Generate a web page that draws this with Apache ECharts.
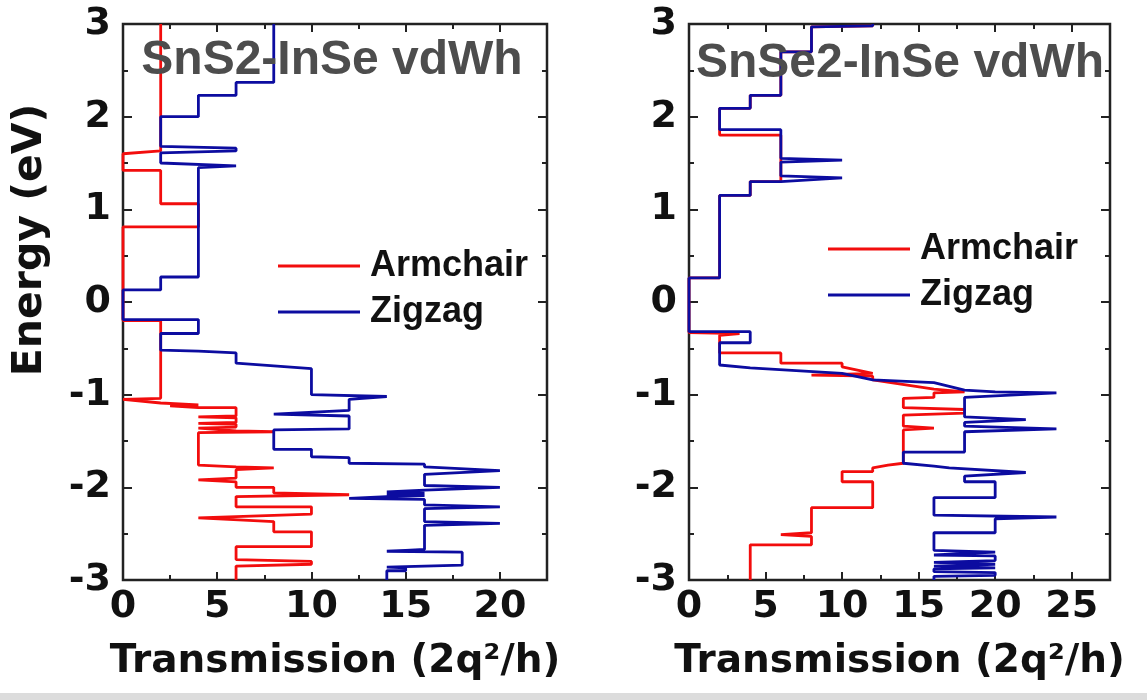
<!DOCTYPE html>
<html>
<head>
<meta charset="utf-8">
<script src="https://cdn.jsdelivr.net/npm/echarts@6/dist/echarts.min.js"></script>
<style>
  html, body { margin: 0; padding: 0; background: #fff; }
  #chart { width: 1147px; height: 700px; }
</style>
</head>
<body>
<div id="chart"></div>
<script>
// transmission curves as [T (2q^2/h), E (eV)] pairs, ordered by energy
const sns2Armchair = [
  [6,-3],[6,-2.85],[10,-2.83],[10,-2.80],[6,-2.78],[6,-2.64],[10,-2.64],[10,-2.48],[8,-2.48],[8,-2.37],
  [4,-2.33],[10,-2.29],[10,-2.21],[6,-2.21],[6,-2.10],[12,-2.08],[8,-2.06],[8,-2.00],[6,-2.00],[6,-1.94],
  [4,-1.92],[6,-1.90],[6,-1.81],[8,-1.79],[6,-1.78],[6,-1.76],[4,-1.76],[4,-1.41],[8,-1.40],[6,-1.39],
  [6,-1.37],[4,-1.36],[6,-1.35],[6,-1.32],[4,-1.31],[6,-1.30],[6,-1.25],[4,-1.24],[6,-1.23],[6,-1.14],
  [4,-1.14],[2.5,-1.12],[4,-1.11],[2,-1.09],[2,-1.07],[0,-1.05],[2,-1.04],[2,-0.20],[0,-0.20],[0,0.81],
  [4,0.81],[4,1.06],[2,1.06],[2,1.42],[0,1.42],[0,1.60],[2,1.63],[2,3]
];
const sns2Zigzag = [
  [14,-3],[14,-2.90],[15,-2.90],[15,-2.87],[14,-2.86],[14,-2.84],[18,-2.84],[18,-2.70],[14,-2.69],[16,-2.67],
  [16,-2.41],[20,-2.39],[16,-2.37],[16,-2.23],[20,-2.21],[16,-2.19],[16,-2.13],[12,-2.12],[14,-2.10],[16,-2.09],
  [14,-2.07],[16,-2.06],[14,-2.05],[16,-2.03],[16,-2.02],[20,-2.00],[16,-1.98],[16,-1.86],[20,-1.82],[16,-1.78],
  [16,-1.75],[12,-1.74],[12,-1.68],[10,-1.67],[10,-1.59],[8,-1.59],[8,-1.38],[12,-1.37],[12,-1.23],[8,-1.21],
  [8,-1.19],[12,-1.17],[12,-1.05],[14,-1.02],[10,-1.00],[10,-0.72],[6,-0.66],[6,-0.55],[4,-0.53],[2,-0.52],
  [2,-0.34],[4,-0.34],[4,-0.19],[0,-0.19],[0,0.13],[2,0.13],[2,0.27],[4,0.27],[4,1.45],[6,1.47],
  [2,1.50],[2,1.61],[6,1.63],[6,1.66],[2,1.68],[2,2.00],[4,2.00],[4,2.23],[6,2.23],[6,2.37],[8,2.37],[8,3]
];
const snse2Armchair = [
  [4,-3],[4,-2.62],[8,-2.62],[8,-2.53],[6,-2.51],[8,-2.49],[8,-2.22],[12,-2.22],[12,-1.94],[10,-1.94],
  [10,-1.83],[12,-1.83],[12,-1.79],[13,-1.76],[14,-1.74],[14,-1.38],[16,-1.36],[14,-1.34],[14,-1.22],[18,-1.20],
  [18,-1.16],[14,-1.14],[14,-1.04],[16,-1.03],[16,-0.98],[18,-0.97],[16,-0.94],[12,-0.84],[12,-0.80],[8,-0.79],
  [12,-0.77],[10,-0.70],[10,-0.66],[6,-0.66],[6,-0.55],[2,-0.55],[2,-0.36],[3.3,-0.34],[0,-0.33],[0,0.26],
  [2,0.26],[2,1.15],[4,1.15],[4,1.30],[6,1.30],[6,1.80],[2,1.80],[2,2.09],[4,2.09],[4,2.23],
  [6,2.23],[6,2.70],[8,2.70],[8,2.97],[12,2.98],[12,3]
];
const snse2Zigzag = [
  [16,-3],[16,-2.96],[20,-2.95],[20,-2.92],[16,-2.91],[16,-2.88],[20,-2.87],[16,-2.85],[20,-2.83],[16,-2.81],
  [20,-2.79],[20,-2.74],[16,-2.73],[16,-2.71],[20,-2.70],[20,-2.68],[16,-2.68],[16,-2.49],[20,-2.49],[20,-2.34],
  [24,-2.32],[16,-2.30],[16,-2.11],[20,-2.11],[20,-1.94],[18,-1.94],[18,-1.88],[22,-1.84],[17,-1.79],[16,-1.77],
  [14,-1.74],[14,-1.62],[18,-1.62],[18,-1.40],[24,-1.37],[18,-1.34],[18,-1.30],[22,-1.27],[18,-1.24],[18,-1.03],
  [24,-0.98],[20,-0.97],[18,-0.95],[16,-0.87],[12,-0.84],[10,-0.77],[4,-0.71],[2,-0.68],[2,-0.44],[4,-0.44],
  [4,-0.32],[0,-0.32],[0,0.26],[2,0.26],[2,1.15],[4,1.15],[4,1.30],[6,1.30],[6,1.32],[10,1.34],
  [6,1.36],[6,1.51],[10,1.53],[6,1.55],[6,1.86],[2,1.86],[2,2.09],[4,2.09],[4,2.23],[6,2.23],
  [6,2.70],[8,2.70],[8,2.97],[12,2.98],[12,3]
];

const panelTitles = ["SnS2-InSe vdWh", "SnSe2-InSe vdWh"];
const seriesNames = ["Armchair", "Zigzag"];
const xMax = [22.5, 27.5];

const RED = "#f20d0d";
const BLUE = "#0c0ca0";
const INK = "#111";
const axisFont = "DejaVu Sans";
const plainFont = "Liberation Sans";

const chart = echarts.init(document.getElementById("chart"));

const grids = [
  { left: 123, top: 24, width: 424, height: 556 },
  { left: 689, top: 24, width: 421, height: 556 }
];

const tickLine = { color: "#222", width: 2 };
const noLine = { show: false, onZero: false };

// four x axes per panel: major/minor at bottom, major/minor mirrored on top
const xAxes = [];
const yAxes = [];
grids.forEach((g, i) => {
  const base = { gridIndex: i, type: "value", min: 0, max: xMax[i], axisLine: noLine, splitLine: { show: false } };
  xAxes.push({
    ...base, position: "bottom", interval: 5,
    axisTick: { inside: true, length: 8, lineStyle: tickLine },
    axisLabel: { fontFamily: axisFont, fontWeight: "bold", fontSize: 38, color: INK, margin: 8, showMaxLabel: false },
    name: "Transmission (2q²/h)", nameLocation: "middle", nameGap: 62,
    nameTextStyle: { fontFamily: axisFont, fontWeight: "bold", fontSize: 39, color: INK }
  });
  xAxes.push({ ...base, position: "bottom", interval: 2.5, axisTick: { inside: true, length: 5, lineStyle: tickLine }, axisLabel: { show: false } });
  xAxes.push({ ...base, position: "top", interval: 5, axisTick: { inside: true, length: 8, lineStyle: tickLine }, axisLabel: { show: false } });
  xAxes.push({ ...base, position: "top", interval: 2.5, axisTick: { inside: true, length: 5, lineStyle: tickLine }, axisLabel: { show: false } });

  const ybase = {
    gridIndex: i, type: "value", min: -3, max: 3, interval: 1,
    axisLine: noLine, splitLine: { show: false },
    axisTick: { inside: true, length: 9, lineStyle: tickLine },
    minorTick: { show: true, splitNumber: 2, length: 5, lineStyle: tickLine }
  };
  const left = {
    ...ybase, position: "left",
    axisLabel: { fontFamily: axisFont, fontWeight: "bold", fontSize: 38, color: INK, margin: 12 }
  };
  if (i === 0) {
    Object.assign(left, {
      name: "Energy (eV)", nameLocation: "middle", nameGap: 72,
      nameTextStyle: { fontFamily: axisFont, fontWeight: "bold", fontSize: 41, color: INK, padding: [0, 0, 0, 124] }
    });
  }
  yAxes.push(left);
  yAxes.push({ ...ybase, position: "right", axisLabel: { show: false } });
});

const curves = [
  [sns2Armchair, sns2Zigzag],
  [snse2Armchair, snse2Zigzag]
];
const series = [];
curves.forEach((pair, i) => {
  pair.forEach((data, k) => {
    series.push({
      name: seriesNames[k],
      type: "line",
      xAxisIndex: i * 4,
      yAxisIndex: i * 2,
      data: data,
      symbol: "none",
      animation: false,
      color: k === 0 ? RED : BLUE,
      lineStyle: { width: 2.8, color: k === 0 ? RED : BLUE },
      z: k === 0 ? 2 : 3
    });
  });
});

const legendText = { fontFamily: plainFont, fontWeight: "bold", fontSize: 36, lineHeight: 36, color: INK, padding: [0, 0, 0, 5] };
const legendBase = { orient: "vertical", padding: 0, icon: "rect", itemWidth: 82, itemHeight: 3, itemGap: 10, data: seriesNames, textStyle: legendText };

const option = {
  animation: false,
  grid: grids.map(g => ({ ...g, show: true, borderColor: "#222", borderWidth: 2.5, backgroundColor: "#fff" })),
  xAxis: xAxes,
  yAxis: yAxes,
  legend: [
    { ...legendBase, left: 278, top: 248 },
    { ...legendBase, left: 828, top: 231 }
  ],
  graphic: [
    { type: "text", x: 332, y: 61, z: 10, style: { text: panelTitles[0], font: "bold 48px 'Liberation Sans'", fill: "#4d4d4d", align: "center", verticalAlign: "middle" } },
    { type: "text", x: 900, y: 64, z: 10, style: { text: panelTitles[1], font: "bold 48px 'Liberation Sans'", fill: "#4d4d4d", align: "center", verticalAlign: "middle" } },
    { type: "rect", shape: { x: 0, y: 693, width: 1147, height: 7 }, style: { fill: "#dcdcdc" } }
  ],
  series: series
};

chart.setOption(option);
</script>
</body>
</html>
